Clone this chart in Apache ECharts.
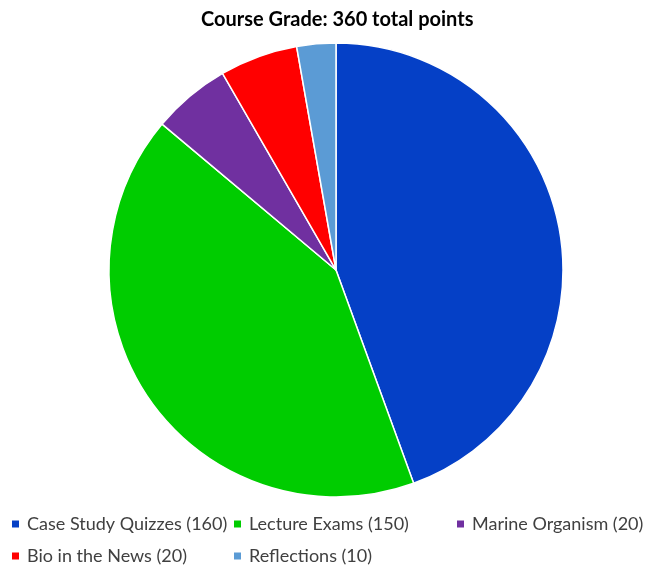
<!DOCTYPE html>
<html>
<head>
<meta charset="utf-8">
<script src="https://cdn.jsdelivr.net/npm/echarts@6/dist/echarts.min.js"></script>
<style>
  html, body { margin: 0; padding: 0; background: #fff; }
  #chart { width: 647px; height: 565px; }
</style>
</head>
<body>
<div id="chart"></div>
<script>
// course components and their points
const categories = ['Case Study Quizzes (160)', 'Lecture Exams (150)', 'Marine Organism (20)', 'Bio in the News (20)', 'Reflections (10)']
const points = [160, 150, 20, 20, 10]
const colors = ['#0540C6', '#00CC00', '#7030A0', '#FF0000', '#5B9BD5']

const font = 'Lato, "Open Sans", sans-serif'
// legend grid: [left, top] for each item
const legendPos = [[5, 510], [227, 510], [450, 510], [5, 542], [227, 542]]

const myPie = echarts.init(document.getElementById('chart'))
let option = {
  animation: false,
  title: {
    text: 'Course Grade: 360 total points',
    left: 196,
    top: 5,
    textStyle: { fontSize: 20, fontWeight: 'bold', color: '#000', fontFamily: font }
  },
  legend: categories.map((name, i) => ({
    data: [name],
    left: legendPos[i][0],
    top: legendPos[i][1],
    itemWidth: 9,
    itemHeight: 9,
    icon: 'rect',
    textStyle: { fontSize: 18, color: '#404040', fontFamily: font, padding: [0, 0, 0, 2] }
  })),
  series: [{
    type: 'pie',
    center: [336, 270],
    radius: 227,
    startAngle: 90,
    clockwise: true,
    label: { show: false },
    labelLine: { show: false },
    itemStyle: { borderColor: '#fff', borderWidth: 1.5 },
    data: categories.map((name, i) => ({
      name: name,
      value: points[i],
      itemStyle: { color: colors[i] }
    }))
  }]
}
myPie.setOption(option)
</script>
</body>
</html>
